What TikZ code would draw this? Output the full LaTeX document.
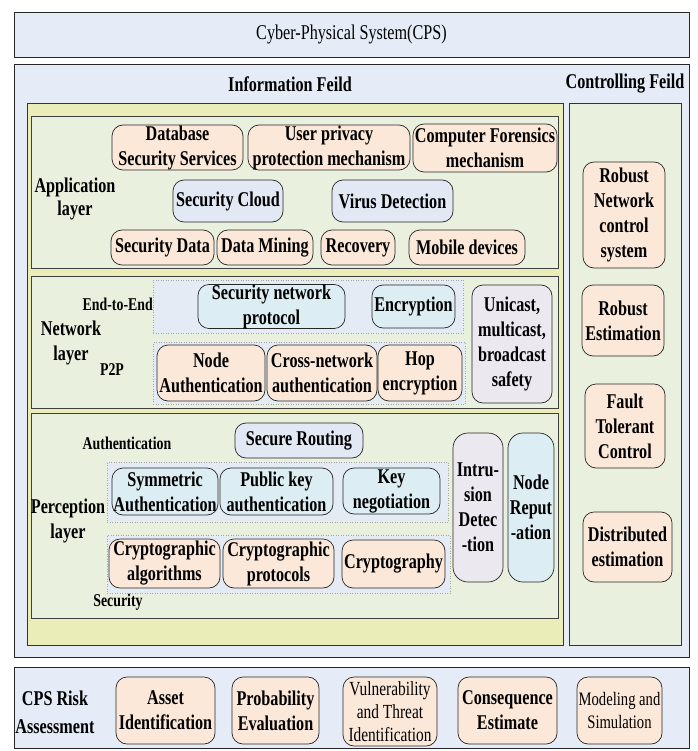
\documentclass[tikz,border=0pt]{standalone}
\usepackage{fontspec}
\setmainfont{Liberation Serif}[FakeStretch=0.77]
\definecolor{cBg}{HTML}{E6ECF7}
\definecolor{cYel}{HTML}{EBEDB9}
\definecolor{cGrn}{HTML}{EAF0DE}
\definecolor{cPeach}{HTML}{FCE8D9}
\definecolor{cCyan}{HTML}{DCEDF3}
\definecolor{cLav}{HTML}{E3E8F5}
\definecolor{cLilac}{HTML}{ECE8F0}
\definecolor{cDot}{HTML}{E4EBF5}
\newcommand\bx[7]{\node[#2, minimum width={(#5-#3)*1pt}, minimum height={(#6-#4)*1pt}] (#1) at ({(#3+#5)/2},{(#4+#6)/2}) {#7};}
\tikzset{
  txt/.style={font=\bfseries\fontsize{21}{25}\selectfont, align=center, inner sep=0pt},
  small/.style={font=\bfseries\fontsize{18}{21}\selectfont, align=center, inner sep=0pt},
  frame/.style={draw=black!85, line width=0.9pt, fill=cBg, inner sep=0pt, txt},
  ybox/.style={draw=black!80, line width=0.8pt, fill=cYel, inner sep=0pt},
  gbox/.style={draw=black!80, line width=0.8pt, fill=cGrn, inner sep=0pt},
  layerbox/.style={draw=black!75, line width=0.8pt, fill=cGrn, inner sep=0pt},
  dotbox/.style={draw=black!35, dotted, line width=0.5pt, fill=cDot, inner sep=0pt},
  rbox/.style={draw=black!85, line width=0.7pt, rounded corners=11pt, txt},
  peach/.style={rbox, fill=cPeach},
  cyan/.style={rbox, fill=cCyan},
  lav/.style={rbox, fill=cLav},
  lilac/.style={rbox, fill=cLilac},
}
\begin{document}
\begin{tikzpicture}[x=1pt,y=-1pt]
\useasboundingbox (0,0) rectangle (697,751);
% top title
\bx{cps}{frame}{14}{12}{689}{57}{\mdseries Cyber-Physical System(CPS)}
% main frame
\bx{main}{frame}{14}{64}{689}{657}{}
\node[txt] (infolbl) at (290,84) {Information Feild};
\node[txt] (ctrllbl) at (625,84) {Controlling Feild};
\bx{info}{ybox}{27}{103}{563}{645}{}
\bx{ctrl}{gbox}{569}{103}{681}{645}{}
% layers
\bx{app}{layerbox}{31}{116}{558}{268}{}
\bx{net}{layerbox}{31}{276}{558}{408}{}
\bx{perc}{layerbox}{31}{413}{558}{618}{}
% application layer
\node[txt, font=\bfseries\fontsize{21}{23}\selectfont] (applbl) at (75,199) {Application\\layer};
\bx{dss}{peach}{112}{125}{243}{170}{Database\\Security Services}
\bx{upp}{peach}{248}{125}{410}{170}{User privacy\\protection mechanism}
\bx{cfm}{peach}{413}{124}{557}{172}{Computer Forensics\\mechanism}
\bx{scl}{lav}{173}{180}{283}{222}{Security Cloud}
\bx{vd}{lav}{332}{180}{453}{222}{Virus Detection}
\bx{sd}{peach}{111}{230}{214}{265}{Security Data}
\bx{dm}{peach}{217}{230}{313}{265}{Data Mining}
\bx{rec}{peach}{321}{230}{395}{265}{Recovery}
\bx{mob}{peach}{409}{230}{525}{265}{Mobile devices}
% network layer
\bx{e2e}{dotbox}{153}{280}{463}{333}{}
\bx{p2p}{dotbox}{153}{342}{465}{404}{}
\node[small, anchor=east] (e2elbl) at (153,304) {End-to-End};
\node[txt] (netlbl) at (71,343) {Network\\layer};
\node[small] (p2plbl) at (112,370) {P2P};
\bx{snp}{cyan}{198}{285}{345}{328}{Security network\\protocol}
\bx{enc}{cyan}{372}{285}{455}{328}{Encryption}
\bx{na}{peach}{157}{345}{265}{401}{Node\\Authentication}
\bx{cna}{peach}{267}{345}{377}{401}{Cross-network\\authentication}
\bx{hop}{peach}{378}{345}{462}{401}{Hop\\encryption}
\bx{uni}{lilac}{472}{285}{552}{403}{Unicast,\\multicast,\\broadcast\\safety}
% perception layer
\node[small] (authlbl) at (127,443) {Authentication};
\node[txt] (perclbl) at (68,521) {Perception\\layer};
\node[small] (seclbl) at (118,602) {Security};
\bx{srt}{lav}{235}{423}{363}{458}{Secure Routing}
\bx{d1}{dotbox}{107}{462}{448}{522}{}
\bx{d2}{dotbox}{107}{535}{450}{593}{}
\bx{sya}{cyan}{112}{468}{218}{515}{Symmetric\\Authentication}
\bx{pka}{cyan}{220}{468}{333}{515}{Public key\\authentication}
\bx{kn}{cyan}{343}{468}{440}{514}{Key\\negotiation}
\bx{ca}{peach}{109}{539}{220}{588}{Cryptographic\\algorithms}
\bx{cp}{peach}{223}{539}{334}{588}{Cryptographic\\protocols}
\bx{cry}{peach}{342}{540}{445}{588}{Cryptography}
\bx{ids}{lilac, rounded corners=15pt}{453}{433}{503}{582}{Intru-\\sion\\Detec\\-tion}
\bx{nrep}{cyan, rounded corners=15pt}{508}{433}{554}{582}{Node\\Reput\\-ation}
% controlling field
\bx{rnc}{peach}{583}{162}{665}{268}{Robust\\Network\\control\\system}
\bx{re}{peach}{582}{285}{664}{356}{Robust\\Estimation}
\bx{ftc}{peach}{585}{384}{665}{468}{Fault\\Tolerant\\Control}
\bx{de}{peach}{583}{512}{672}{582}{Distributed\\estimation}
% risk assessment
\bx{risk}{frame}{14}{667}{689}{748}{}
\node[txt, font=\bfseries\fontsize{21}{28}\selectfont] (risklbl) at (55,712) {CPS Risk\\Assessment};
\bx{ai}{peach}{116}{677}{215}{744}{Asset\\Identification}
\bx{pe}{peach}{232}{677}{319}{744}{Probability\\Evaluation}
\bx{vti}{peach, font=\mdseries\fontsize{20}{23}\selectfont}{343}{677}{437}{746}{Vulnerability\\and Threat\\Identification}
\bx{ce}{peach}{458}{677}{557}{744}{Consequence\\Estimate}
\bx{ms}{peach, font=\mdseries\fontsize{19}{23}\selectfont}{577}{677}{662}{744}{Modeling and\\Simulation}
\end{tikzpicture}
\end{document}
